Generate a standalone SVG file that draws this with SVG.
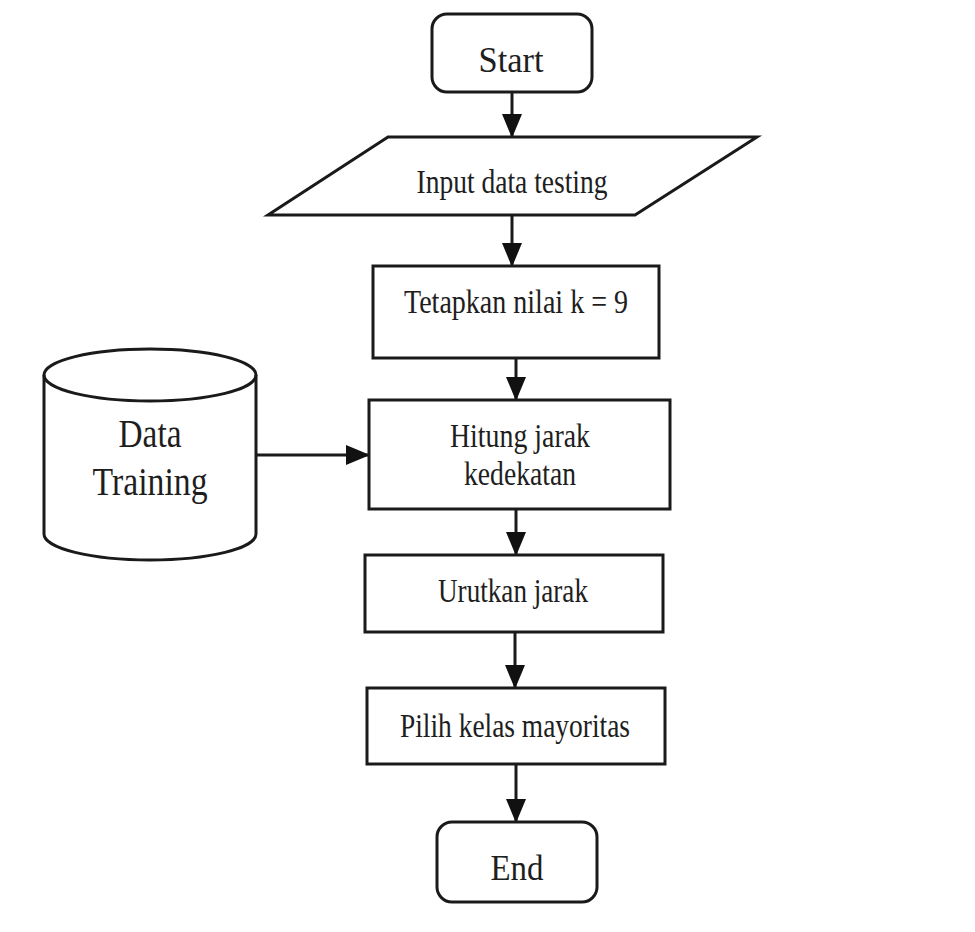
<svg xmlns="http://www.w3.org/2000/svg" width="975" height="932" viewBox="0 0 975 932">
<style>
.sh{fill:#fff;stroke:#1a1a1a;stroke-width:3}
.t{font-family:"Liberation Serif","Times New Roman",serif;fill:#1e1e1e;text-anchor:middle}
.c{stroke:#1a1a1a;stroke-width:3;fill:none}
</style>
<defs>
<marker id="ah" viewBox="0 0 24 20" refX="23" refY="10" markerWidth="24" markerHeight="20" markerUnits="userSpaceOnUse" orient="auto">
<path d="M0,0 L24,10 L0,20 Z" fill="#111"/>
</marker>
</defs>
<rect width="975" height="932" fill="#fff"/>
<g id="connectors">
<line class="c" x1="512" y1="92" x2="512" y2="137" marker-end="url(#ah)"/>
<line class="c" x1="512" y1="215" x2="512" y2="266" marker-end="url(#ah)"/>
<line class="c" x1="516" y1="358" x2="516" y2="400" marker-end="url(#ah)"/>
<line class="c" x1="256" y1="455" x2="369" y2="455" marker-end="url(#ah)"/>
<line class="c" x1="516" y1="509" x2="516" y2="555" marker-end="url(#ah)"/>
<line class="c" x1="515" y1="632" x2="515" y2="688" marker-end="url(#ah)"/>
<line class="c" x1="516" y1="764" x2="516" y2="822" marker-end="url(#ah)"/>
</g>
<g id="start">
<rect class="sh" x="432" y="14" width="160" height="78" rx="15"/>
<text class="t" x="511" y="72" font-size="36" textLength="65" lengthAdjust="spacingAndGlyphs">Start</text>
</g>
<g id="input">
<polygon class="sh" points="388,137 757,137 635,215 268,215"/>
<text class="t" x="512" y="193" font-size="33" textLength="191" lengthAdjust="spacingAndGlyphs">Input data testing</text>
</g>
<g id="tetapkan">
<rect class="sh" x="373" y="266" width="286" height="92"/>
<text class="t" x="516" y="313" font-size="33" textLength="224" lengthAdjust="spacingAndGlyphs">Tetapkan nilai k = 9</text>
</g>
<g id="datatraining">
<path class="sh" d="M44,375 L44,534 A106,26 0 0 0 256,534 L256,375 A106,26 0 0 0 44,375 Z"/>
<path class="c" d="M44,375 A106,26 0 0 0 256,375"/>
<text class="t" x="150" y="447" font-size="40" textLength="63" lengthAdjust="spacingAndGlyphs">Data</text>
<text class="t" x="150" y="495" font-size="40" textLength="115" lengthAdjust="spacingAndGlyphs">Training</text>
</g>
<g id="hitung">
<rect class="sh" x="369" y="400" width="301" height="109"/>
<text class="t" x="520" y="447" font-size="33" textLength="140" lengthAdjust="spacingAndGlyphs">Hitung jarak</text>
<text class="t" x="520" y="485" font-size="33" textLength="112" lengthAdjust="spacingAndGlyphs">kedekatan</text>
</g>
<g id="urutkan">
<rect class="sh" x="365" y="555" width="298" height="77"/>
<text class="t" x="513" y="602" font-size="33" textLength="150" lengthAdjust="spacingAndGlyphs">Urutkan jarak</text>
</g>
<g id="pilih">
<rect class="sh" x="367" y="688" width="298" height="76"/>
<text class="t" x="515" y="737" font-size="33" textLength="230" lengthAdjust="spacingAndGlyphs">Pilih kelas mayoritas</text>
</g>
<g id="end">
<rect class="sh" x="437" y="822" width="160" height="80" rx="15"/>
<text class="t" x="517" y="880" font-size="36" textLength="53" lengthAdjust="spacingAndGlyphs">End</text>
</g>
</svg>
